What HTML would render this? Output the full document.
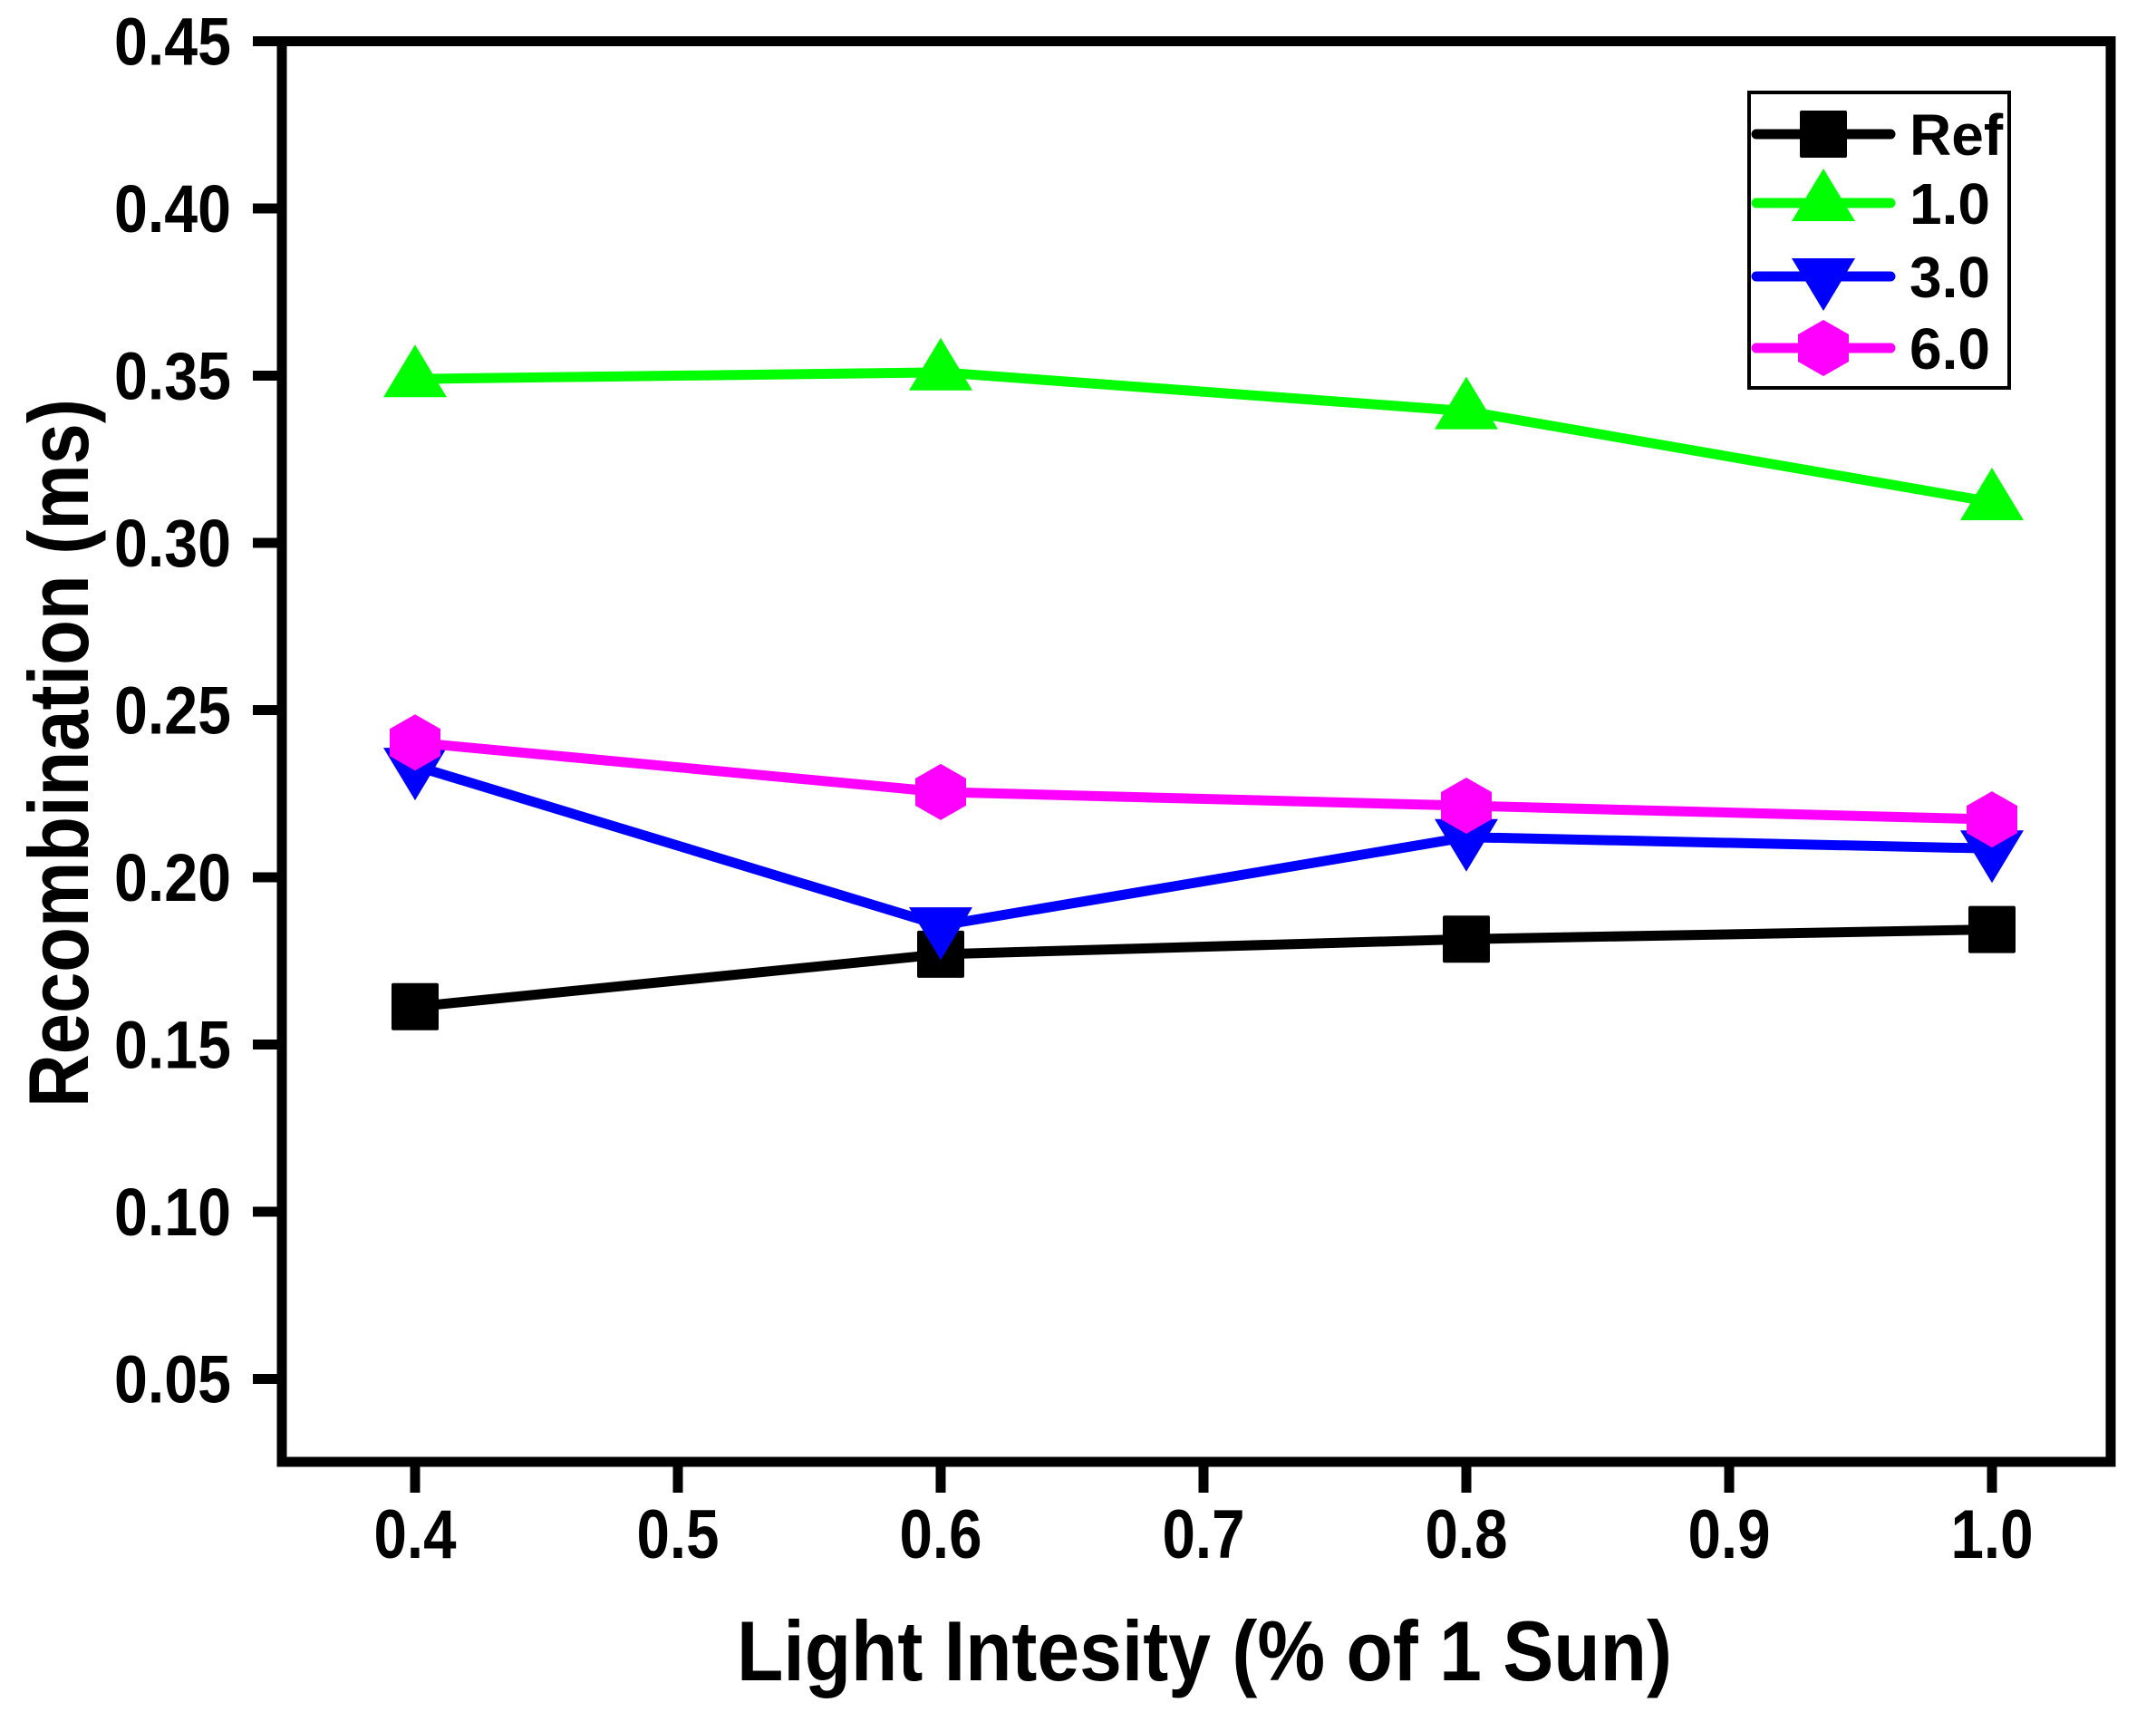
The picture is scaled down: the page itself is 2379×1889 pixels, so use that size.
<!DOCTYPE html>
<html><head><meta charset="utf-8"><style>
html,body{margin:0;padding:0;background:#fff;}
svg{display:block;font-family:"Liberation Sans",Arial,sans-serif;font-weight:bold;}
</style></head><body>
<svg id="chart" width="2379" height="1889" viewBox="0 0 2379 1889" xmlns="http://www.w3.org/2000/svg">
<rect width="2379" height="1889" fill="#fff"/>
<g id="plot"></g>
</svg>
<script>
const xValues = [0.4, 0.6, 0.8, 1.0];
const refValues = [0.1613, 0.177, 0.1815, 0.1844];
const s10Values = [0.349, 0.351, 0.3394, 0.3122];
const s30Values = [0.2333, 0.1856, 0.212, 0.2086];
const s60Values = [0.2403, 0.2255, 0.2214, 0.2173];
const seriesNames = ["Ref", "1.0", "3.0", "6.0"];
const xTicks = [0.4, 0.5, 0.6, 0.7, 0.8, 0.9, 1.0];
const xTickLabels = ["0.4", "0.5", "0.6", "0.7", "0.8", "0.9", "1.0"];
const yTicks = [0.05, 0.10, 0.15, 0.20, 0.25, 0.30, 0.35, 0.40, 0.45];
const yTickLabels = ["0.05", "0.10", "0.15", "0.20", "0.25", "0.30", "0.35", "0.40", "0.45"];

const NS = "http://www.w3.org/2000/svg";
const g = document.getElementById("plot");
const L = 311, R = 2329, T = 45.5, B = 1613;
function xs(v){ return 458 + (v - 0.4) / 0.1 * 290; }
function ys(v){ return 45.5 + (0.45 - v) / 0.05 * 184.5; }
function mk(tag, attrs, parent){
  const e = document.createElementNS(NS, tag);
  for (const k in attrs) e.setAttribute(k, attrs[k]);
  (parent || g).appendChild(e);
  return e;
}
function marker(kind, cx, cy, color, parent){
  let e;
  if (kind === "square") {
    e = mk("rect", {x: cx - 26, y: cy - 26, width: 52, height: 52, fill: color, rx: 2}, parent);
  } else if (kind === "up") {
    e = mk("polygon", {points: `${cx},${cy-38} ${cx+35},${cy+20} ${cx-35},${cy+20}`, fill: color}, parent);
  } else if (kind === "down") {
    e = mk("polygon", {points: `${cx-35},${cy-20} ${cx+35},${cy-20} ${cx},${cy+38}`, fill: color}, parent);
  } else {
    e = mk("polygon", {points: `${cx},${cy-31} ${cx+28},${cy-15} ${cx+28},${cy+15} ${cx},${cy+31} ${cx-28},${cy+15} ${cx-28},${cy-15}`, fill: color}, parent);
  }
  return e;
}

const frame = mk("rect", {x: L, y: T, width: R - L, height: B - T, fill: "none", stroke: "#000", "stroke-width": 11});



yTicks.forEach((v, i) => {
  const y = ys(v);
  const t = mk("line", {x1: L - 32, x2: L, y1: y, y2: y, stroke: "#000", "stroke-width": 11});
  
  
  const lb = mk("text", {x: 255, y: y + 26, "text-anchor": "end", "font-size": 74, fill: "#000", textLength: 129, lengthAdjust: "spacingAndGlyphs"});
  lb.textContent = yTickLabels[i];
  
  
});
xTicks.forEach((v, i) => {
  const x = xs(v);
  const t = mk("line", {x1: x, x2: x, y1: B, y2: B + 34, stroke: "#000", "stroke-width": 11});
  
  
  const lb = mk("text", {x: x, y: 1719, "text-anchor": "middle", "font-size": 76, fill: "#000", textLength: 91, lengthAdjust: "spacingAndGlyphs"});
  lb.textContent = xTickLabels[i];
  
  
});

const xt = mk("text", {x: 1329, y: 1854, "text-anchor": "middle", "font-size": 94, fill: "#000", textLength: 1032, lengthAdjust: "spacingAndGlyphs"});
xt.textContent = "Light Intesity (% of 1 Sun)";


const yt = mk("text", {x: 0, y: 0, "text-anchor": "middle", "font-size": 94, fill: "#000", textLength: 782, lengthAdjust: "spacingAndGlyphs", transform: "translate(97,831) rotate(-90)"});
yt.textContent = "Recombination (ms)";



const series = [
  {vals: refValues, color: "#000000", kind: "square", key: "ref"},
  {vals: s10Values, color: "#00ff00", kind: "up", key: "1-0"},
  {vals: s30Values, color: "#0000ff", kind: "down", key: "3-0"},
  {vals: s60Values, color: "#ff00ff", kind: "hex", key: "6-0"}
];
series.forEach(s => {
  const grp = mk("g", {});
  
  
  const pts = xValues.map((x, i) => xs(x) + "," + ys(s.vals[i])).join(" ");
  const pl = mk("polyline", {points: pts, fill: "none", stroke: s.color, "stroke-width": 11, "stroke-linejoin": "round"}, grp);
  
  
  xValues.forEach((x, i) => {
    const m = marker(s.kind, xs(x), ys(s.vals[i]), s.color, grp);
    
    
  });
});

const lg = mk("g", {});


const lbox = mk("rect", {x: 1930, y: 102, width: 287, height: 326, fill: "#fff", stroke: "#000", "stroke-width": 4}, lg);


const rowY = [148, 224, 305, 384];
series.forEach((s, i) => {
  const y = rowY[i];
  const e = mk("g", {}, lg);
  
  
  mk("line", {x1: 1938, x2: 2086, y1: y, y2: y, stroke: s.color, "stroke-width": 11, "stroke-linecap": "round"}, e);
  marker(s.kind, 2012, y, s.color, e);
  const t = mk("text", {x: 2107, y: y + 23, "font-size": 64, fill: "#000"}, e);
  t.textContent = seriesNames[i];
});
</script>
</body></html>
